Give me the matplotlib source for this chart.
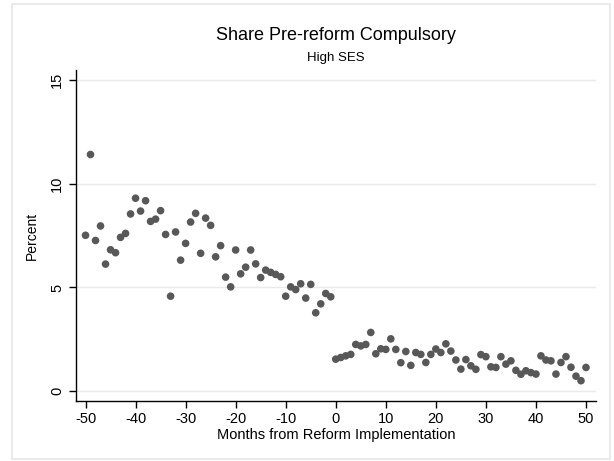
import numpy as np
import matplotlib.pyplot as plt
from matplotlib.patches import Rectangle

plt.rcParams['font.family'] = ['Liberation Sans', 'DejaVu Sans']
plt.rcParams['axes.unicode_minus'] = False

# months relative to reform and share of pre-reform compulsory (percent)
months = np.arange(-50, 51)
share = [
    7.52, 11.42, 7.27, 7.97, 6.13, 6.82, 6.68, 7.42, 7.61, 8.55,   # -50..-41
    9.31, 8.69, 9.19, 8.19, 8.30, 8.71, 7.56, 4.58, 7.68, 6.32,    # -40..-31
    7.13, 8.16, 8.58, 6.65, 8.35, 8.00, 6.48, 7.02, 5.50, 5.03,    # -30..-21
    6.81, 5.66, 5.98, 6.81, 6.14, 5.48, 5.84, 5.73, 5.63, 5.52,    # -20..-11
    4.58, 5.03, 4.90, 5.18, 4.49, 5.15, 3.78, 4.21, 4.71, 4.55,    # -10..-1
    1.54, 1.62, 1.70, 1.77, 2.25, 2.18, 2.25, 2.83, 1.80, 2.04,    # 0..9
    2.01, 2.52, 2.01, 1.37, 1.91, 1.24, 1.86, 1.77, 1.38, 1.77,    # 10..19
    2.03, 1.86, 2.28, 1.93, 1.50, 1.06, 1.52, 1.22, 1.05, 1.76,    # 20..29
    1.66, 1.17, 1.14, 1.66, 1.30, 1.46, 1.00, 0.81, 0.98, 0.89,    # 30..39
    0.82, 1.70, 1.50, 1.46, 0.82, 1.38, 1.66, 1.15, 0.72, 0.50,    # 40..49
    1.14,                                                          # 50
]
xticks = np.arange(-50, 51, 10)
yticks = [0, 5, 10, 15]

fig = plt.figure(figsize=(6.14, 4.61), dpi=100)
fig.patches.append(Rectangle((12 / 614, 2 / 461), 598 / 614, 455 / 461,
                             transform=fig.transFigure, fill=False,
                             edgecolor='#e6e6e6', linewidth=1.2))
ax = fig.add_axes([76 / 614, 60 / 461, 520 / 614, 331 / 461])

ax.scatter(months, share, s=30, color='#585858', edgecolors='none', zorder=3)

ax.set_xlim(-51.9, 52)
ax.set_ylim(-0.48, 15.5)
ax.set_xticks(xticks)
ax.set_yticks(yticks)
ax.yaxis.grid(True, color='#eaeaea', linewidth=1)
ax.set_axisbelow(True)
for side in ['top', 'right']:
    ax.spines[side].set_visible(False)
for side in ['left', 'bottom']:
    ax.spines[side].set_linewidth(1)
ax.tick_params(axis='both', direction='out', length=5, width=1, labelsize=10.5)
ax.tick_params(axis='x', pad=3)
plt.setp(ax.get_yticklabels(), rotation=90, va='center')

ax.set_xlabel('Months from Reform Implementation', fontsize=10.5, labelpad=1)
ax.set_ylabel('Percent', fontsize=10, labelpad=8)

fig.text(336 / 614, 1 - 36 / 461, 'Share Pre-reform Compulsory',
         ha='center', va='center', fontsize=13)
fig.text(336 / 614, 1 - 58 / 461, 'High SES',
         ha='center', va='center', fontsize=9.5)

plt.savefig('out.png', dpi=100)
